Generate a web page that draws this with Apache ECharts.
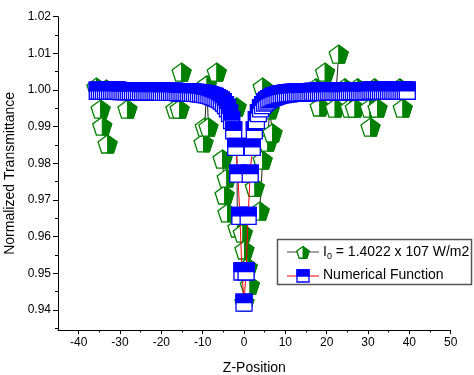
<!DOCTYPE html>
<html>
<head>
<meta charset="utf-8">
<script src="https://cdn.jsdelivr.net/npm/echarts@6/dist/echarts.min.js"></script>
<style>
  html, body { margin: 0; padding: 0; background: #fff; }
  #chart { width: 474px; height: 375px; }
</style>
</head>
<body>
<div id="chart"></div>
<script>
// measured points (Z-position vs normalized transmittance), in acquisition order
const zGreen = [-35.7, -33.3, -34.7, -34.3, -33.0, -28.2, -16.6, -15.6, -15.1, -9.8, -9.5, -9.0, -8.6, -6.6,
  -5.2, -4.7, -4.2, -4.0, -1.8, -1.6, -0.3, 0.1, 0.1, 0.9, 1.4, 2.6, 3.8, 4.5, 4.5, 5.7, 6.2, 6.9,
  17.4, 18.3, 19.6, 22.0, 22.9, 24.4, 25.6, 26.8, 27.5, 30.4, 30.6, 31.6, 32.3, 37.7, 38.4]
const tGreen = [1.0008, 1.0003, 0.9948, 0.9902, 0.9853, 0.9948, 0.9948, 0.9948, 1.0049, 0.9856, 0.9899, 1.0014, 0.9899, 1.0049,
  0.9812, 0.9714, 0.9760, 0.9665, 0.9954, 0.9624, 0.9610, 0.9564, 0.9422, 0.9517, 0.9468, 0.9735, 0.9670, 0.9809, 1.0008, 0.9858, 0.9946, 0.9883,
  1.0006, 0.9954, 1.0049, 0.9951, 1.0098, 1.0006, 0.9951, 0.9951, 1.0006, 0.9951, 0.9899, 1.0006, 0.9951, 1.0006, 0.9951]

// numerical function
const zBlue = [
  -35.5, -35, -34.5, -34, -33.5, -33, -32.5, -32, -31.5, -31, -30.5,
  -30, -29.5, -29, -28.5, -28, -27.5, -27, -26.5, -26, -25.5,
  -25, -24.5, -24, -23.5, -23, -22.5, -22, -21.5, -21, -20.5,
  -20, -19.5, -19, -18.5, -18, -17.5, -17, -16.5,
  -16, -15.5, -15, -14.5, -14, -13.5, -13, -12.5, -12, -11.5, -11, -10.5,
  -10, -9.5, -9, -8.5, -8, -7.5, -7, -6.5, -6, -5.5, -5, -4.5, -4, -3.5, -3, -2.5, -2, -1.5, -1, -0.5,
  0,
  0.5, 1, 1.5, 2, 2.5, 3, 3.5, 4, 4.5, 5, 5.5, 6, 6.5, 7, 7.5, 8, 8.5, 9, 9.5, 10,
  10.5, 11, 11.5, 12, 12.5, 13, 13.5, 14, 14.5, 15, 15.5, 16,
  16.5, 17, 17.5, 18, 18.5, 19, 19.5, 20,
  20.5, 21, 21.5, 22, 22.5, 23, 23.5, 24, 24.5, 25,
  25.5, 26, 26.5, 27, 27.5, 28, 28.5, 29, 29.5, 30,
  30.5, 31, 31.5, 32, 32.5, 33, 33.5, 34, 34.5, 35, 35.5, 36, 36.5, 37, 37.5, 38, 38.5, 39, 39.5
]
const tBlue = [
  0.9998, 0.9998, 0.9998, 0.9998, 0.9998, 0.9998, 0.9998, 0.9998, 0.9998, 0.9998, 0.9998,
  0.9997, 0.9997, 0.9997, 0.9997, 0.9997, 0.9997, 0.9997, 0.9997, 0.9997, 0.9997,
  0.9996, 0.9996, 0.9996, 0.9996, 0.9996, 0.9996, 0.9996, 0.9996, 0.9996, 0.9996,
  0.9995, 0.9995, 0.9995, 0.9995, 0.9995, 0.9995, 0.9995, 0.9995,
  0.9994, 0.9994, 0.9994, 0.9994, 0.9994, 0.9993, 0.9993, 0.9993, 0.9992, 0.9992, 0.9991, 0.9991,
  0.9990, 0.9989, 0.9988, 0.9987, 0.9985, 0.9983, 0.9981, 0.9978, 0.9975, 0.9971, 0.9966, 0.9959, 0.9950, 0.9937, 0.9918, 0.9890, 0.9845, 0.9772, 0.9657, 0.9505,
  0.9420,
  0.9505, 0.9657, 0.9772, 0.9845, 0.9890, 0.9918, 0.9937, 0.9950, 0.9959, 0.9966, 0.9971, 0.9975, 0.9978, 0.9981, 0.9983, 0.9985, 0.9987, 0.9988, 0.9989, 0.9990,
  0.9991, 0.9991, 0.9992, 0.9992, 0.9993, 0.9993, 0.9993, 0.9994, 0.9994, 0.9994, 0.9994, 0.9994,
  0.9995, 0.9995, 0.9995, 0.9995, 0.9995, 0.9995, 0.9995, 0.9995,
  0.9996, 0.9996, 0.9996, 0.9996, 0.9996, 0.9996, 0.9996, 0.9996, 0.9996, 0.9996,
  0.9997, 0.9997, 0.9997, 0.9997, 0.9997, 0.9997, 0.9997, 0.9997, 0.9997, 0.9997,
  0.9998, 0.9998, 0.9998, 0.9998, 0.9998, 0.9998, 0.9998, 0.9998, 0.9998, 0.9998, 0.9998, 0.9998, 0.9998, 0.9998, 0.9998, 0.9998, 0.9998, 0.9998, 0.9998
]

const xMajor = [-40, -30, -20, -10, 0, 10, 20, 30, 40, 50]
const xMinor = [-35, -25, -15, -5, 5, 15, 25, 35, 45]
const yMajor = [0.94, 0.95, 0.96, 0.97, 0.98, 0.99, 1.00, 1.01, 1.02]
const yMinor = [0.935, 0.945, 0.955, 0.965, 0.975, 0.985, 0.995, 1.005, 1.015]

const GREEN = '#008000'
const BLUE = '#0000ff'
const FONT = 'Liberation Sans'

const greenData = zGreen.map((z, i) => [z, tGreen[i]])
const blueData = zBlue.map((z, i) => [z, tBlue[i]])

// connecting line only between neighbouring readings (big jumps in z are left open)
const greenLine = []
greenData.forEach((p, i) => {
  if (i > 0 && Math.abs(p[0] - greenData[i - 1][0]) > 1.0) greenLine.push('-')
  greenLine.push(p)
})

function pentagonGroup(cx, cy, r, z) {
  const pts = []
  for (let k = 0; k < 5; k++) {
    const a = (-90 + 72 * k) * Math.PI / 180
    pts.push([cx + r * Math.cos(a), cy + r * Math.sin(a)])
  }
  return [
    { type: 'polygon', z: z, shape: { points: pts }, style: { fill: '#fff', stroke: GREEN, lineWidth: 1.3 } },
    { type: 'polygon', z: z, shape: { points: [pts[0], pts[1], pts[2], [cx, pts[2][1]]] }, style: { fill: GREEN, stroke: GREEN, lineWidth: 1 } }
  ]
}

function squareGroup(cx, cy, w, h, z) {
  return [
    { type: 'rect', z: z, shape: { x: cx - w / 2, y: cy - h / 2, width: w, height: h }, style: { fill: '#fff', stroke: BLUE, lineWidth: 1.3 } },
    { type: 'rect', z: z, shape: { x: cx - w / 2, y: cy - h / 2, width: w, height: h / 2 }, style: { fill: BLUE, stroke: BLUE, lineWidth: 1.3 } }
  ]
}

function renderPentagon(params, api) {
  const p = api.coord([api.value(0), api.value(1)])
  return { type: 'group', children: pentagonGroup(p[0], p[1] + 1, 10) }
}

function renderSquare(params, api) {
  const p = api.coord([api.value(0), api.value(1)])
  return { type: 'group', children: squareGroup(p[0], p[1], 16, 17) }
}

const axisBase = {
  axisLine: { show: true, onZero: false, lineStyle: { color: '#000', width: 1 } },
  splitLine: { show: false }
}

const chart = echarts.init(document.getElementById('chart'), null, { renderer: 'canvas' })
chart.setOption({
  animation: false,
  textStyle: { fontFamily: FONT },
  grid: { left: 58, right: 23.3, top: 16.7, bottom: 45, containLabel: false, outerBoundsMode: 'none' },
  xAxis: [
    {
      ...axisBase,
      type: 'value', min: -45, max: 50, interval: 5, position: 'bottom',
      axisTick: { show: true, length: 4, customValues: xMajor, lineStyle: { color: '#000' } },
      axisLabel: { customValues: xMajor, fontSize: 12, color: '#000', margin: 7, fontFamily: FONT },
      name: 'Z-Position', nameLocation: 'middle', nameGap: 31,
      nameTextStyle: { fontSize: 14, color: '#000', fontFamily: FONT }
    },
    {
      type: 'value', min: -45, max: 50, interval: 5, position: 'bottom', offset: 0,
      axisLine: { show: false, onZero: false },
      axisTick: { show: true, length: 2.5, customValues: xMinor, lineStyle: { color: '#000' } },
      axisLabel: { show: false },
      splitLine: { show: false }
    }
  ],
  yAxis: [
    {
      ...axisBase,
      type: 'value', min: 0.93455, max: 1.02, position: 'left',
      axisTick: { show: true, length: 5, customValues: yMajor, lineStyle: { color: '#000' } },
      axisLabel: { customValues: yMajor, fontSize: 12, color: '#000', margin: 7, fontFamily: FONT,
        formatter: v => v.toFixed(2) },
      name: 'Normalized Transmittance', nameLocation: 'middle', nameGap: 38, nameRotate: 90,
      nameTextStyle: { fontSize: 14, color: '#000', fontFamily: FONT }
    },
    {
      type: 'value', min: 0.93455, max: 1.02, position: 'left', offset: 0,
      axisLine: { show: false, onZero: false },
      axisTick: { show: true, length: 3, customValues: yMinor, lineStyle: { color: '#000' } },
      axisLabel: { show: false },
      splitLine: { show: false }
    }
  ],
  series: [
    {
      type: 'line', data: greenLine, symbol: 'none', z: 2, connectNulls: false,
      lineStyle: { color: '#222', width: 1 }
    },
    {
      type: 'custom', data: greenData, renderItem: renderPentagon, z: 3,
      encode: { x: 0, y: 1 }
    },
    {
      type: 'line', data: blueData, symbol: 'none', z: 4,
      lineStyle: { color: '#ff0000', width: 1 }
    },
    {
      type: 'custom', data: blueData, renderItem: renderSquare, z: 5,
      encode: { x: 0, y: 1 }
    }
  ],
  graphic: [
    { type: 'rect', shape: { x: 277.5, y: 239.5, width: 194, height: 45 }, style: { fill: '#fff', stroke: '#555', lineWidth: 1.5 }, z: 10 },
    { type: 'line', shape: { x1: 287, y1: 252, x2: 319, y2: 252 }, style: { stroke: '#444', lineWidth: 1 }, z: 11 },
    ...pentagonGroup(303, 253, 6.5, 12),
    { type: 'text', left: 323, top: 243, z: 12, style: {
      text: '{a|I}{s|0}{a| = 1.4022 x 107 W/m2}',
      rich: {
        a: { fontSize: 14, fontFamily: FONT, fill: '#000', lineHeight: 18 },
        s: { fontSize: 9, fontFamily: FONT, fill: '#000', lineHeight: 18, padding: [9, 0, 0, 0] }
      }
    } },
    { type: 'line', shape: { x1: 287, y1: 276, x2: 319, y2: 276 }, style: { stroke: '#ff0000', lineWidth: 1 }, z: 11 },
    ...squareGroup(303, 276, 12, 12, 12),
    { type: 'text', left: 323, top: 268, z: 12, style: {
      text: 'Numerical Function', fontSize: 14, fontFamily: FONT, fill: '#000'
    } }
  ]
})
</script>
</body>
</html>
